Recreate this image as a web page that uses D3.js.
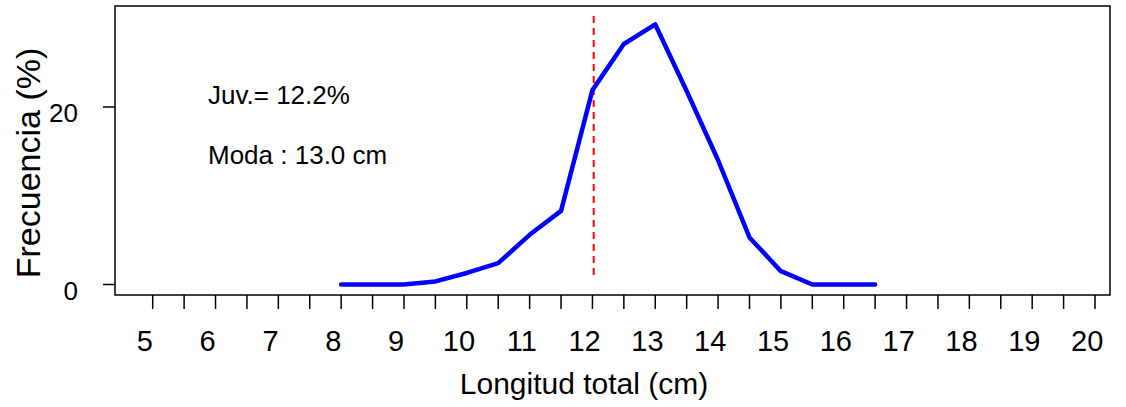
<!DOCTYPE html>
<html>
<head>
<meta charset="utf-8">
<script src="https://cdn.jsdelivr.net/npm/d3@7"></script>
<style>
  body { margin: 0; background: #fff; }
  text { font-family: "Liberation Sans", Arial, sans-serif; }
</style>
</head>
<body>
<div id="chart"></div>
<script>
const w = 1126, h = 407;

// talla (cm) y frecuencia (%)
const tallas = [8, 8.5, 9, 9.5, 10, 10.5, 11, 11.5, 12, 12.5, 13, 13.5, 14, 14.5, 15, 15.5, 16, 16.5];
const frecuencia = [0, 0, 0, 0.35, 1.3, 2.4, 5.6, 8.3, 21.9, 27.1, 29.3, 21.8, 14.0, 5.3, 1.5, 0, 0, 0];
const xLabels = [5, 6, 7, 8, 9, 10, 11, 12, 13, 14, 15, 16, 17, 18, 19, 20];
const yTicks = [0, 20];
const tallaJuv = 12.02;
const notas = ["Juv.= 12.2%", "Moda : 13.0 cm"];

const svg = d3.select("#chart").append("svg").attr("width", w).attr("height", h);

const box = { left: 115, right: 1110, top: 6, bottom: 295 };

const x = d3.scaleLinear().domain([5, 20]).range([152.7, 1095]);
const y = d3.scaleLinear().domain([0, 20]).range([284.5, 107]);

svg.append("rect")
  .attr("x", box.left).attr("y", box.top)
  .attr("width", box.right - box.left).attr("height", box.bottom - box.top)
  .attr("fill", "none").attr("stroke", "#000").attr("stroke-width", 1.5);

// x ticks every 0.5
const xt = d3.range(5, 20.01, 0.5);
svg.selectAll("line.xt").data(xt).enter().append("line")
  .attr("x1", d => x(d)).attr("x2", d => x(d))
  .attr("y1", box.bottom).attr("y2", box.bottom + 14)
  .attr("stroke", "#000").attr("stroke-width", 1.5);

svg.selectAll("text.xl").data(xLabels).enter().append("text")
  .attr("x", d => x(d - 0.125)).attr("y", 351)
  .attr("text-anchor", "middle").attr("font-size", 29)
  .text(d => d);

svg.append("text")
  .attr("x", 584).attr("y", 394).attr("text-anchor", "middle")
  .attr("font-size", 30).text("Longitud total (cm)");

// y axis
svg.selectAll("line.yt").data(yTicks).enter().append("line")
  .attr("x1", box.left - 12).attr("x2", box.left)
  .attr("y1", d => y(d)).attr("y2", d => y(d))
  .attr("stroke", "#000").attr("stroke-width", 1.5);

svg.selectAll("text.yl").data(yTicks).enter().append("text")
  .attr("x", 78).attr("y", d => y(d) + 15)
  .attr("text-anchor", "end").attr("font-size", 26)
  .text(d => d);

svg.append("text")
  .attr("transform", "translate(40,163) rotate(-90)")
  .attr("text-anchor", "middle").attr("font-size", 34)
  .text("Frecuencia (%)");

// juvenile reference line
svg.append("line")
  .attr("x1", x(tallaJuv)).attr("x2", x(tallaJuv))
  .attr("y1", 16).attr("y2", 280)
  .attr("stroke", "#ff0000").attr("stroke-width", 2)
  .attr("stroke-dasharray", "7,5");

const line = d3.line().x((d, i) => x(tallas[i])).y(d => y(d));
svg.append("path")
  .datum(frecuencia)
  .attr("d", line)
  .attr("fill", "none").attr("stroke", "#0000ff")
  .attr("stroke-width", 4.5).attr("stroke-linecap", "round")
  .attr("stroke-linejoin", "round");

svg.selectAll("text.nota").data(notas).enter().append("text")
  .attr("x", 208).attr("y", (d, i) => 104 + i * 60)
  .attr("font-size", 26).text(d => d);
</script>
</body>
</html>
